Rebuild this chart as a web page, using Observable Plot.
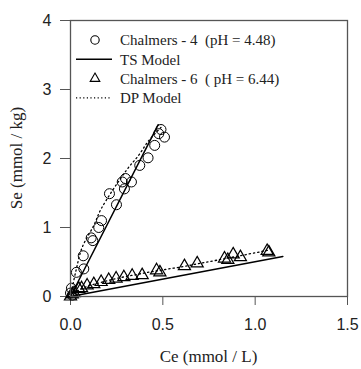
<!DOCTYPE html>
<html>
<head>
<meta charset="utf-8">
<script src="https://cdn.jsdelivr.net/npm/d3@7"></script>
<script src="https://cdn.jsdelivr.net/npm/@observablehq/plot@0.6"></script>
<style>
  html, body { margin: 0; padding: 0; background: #fff; }
</style>
</head>
<body>
<div id="chart"></div>
<script>
// Chalmers - 4 (pH = 4.48) observed points
const c4x = [0.0, 0.005, 0.01, 0.032, 0.072, 0.069, 0.112, 0.121, 0.153, 0.168, 0.211, 0.249, 0.280, 0.292, 0.298, 0.330, 0.375, 0.420, 0.456, 0.478, 0.509, 0.490];
const c4y = [0.05, 0.12, 0.02, 0.35, 0.40, 0.59, 0.85, 0.81, 1.00, 1.10, 1.49, 1.33, 1.66, 1.56, 1.71, 1.66, 1.90, 2.01, 2.19, 2.36, 2.31, 2.42];
// Chalmers - 6 (pH = 6.44) observed points
const c6x = [0.0, 0.01, 0.02, 0.045, 0.06, 0.09, 0.126, 0.166, 0.207, 0.247, 0.289, 0.334, 0.388, 0.466, 0.484, 0.617, 0.686, 0.834, 0.852, 0.881, 0.920, 1.065, 1.074];
const c6y = [0.0, 0.03, 0.05, 0.11, 0.12, 0.16, 0.18, 0.21, 0.24, 0.26, 0.28, 0.30, 0.31, 0.38, 0.35, 0.44, 0.48, 0.55, 0.53, 0.61, 0.57, 0.66, 0.64];
// TS Model lines
const ts4x = [0.0, 0.475];
const ts4y = [0.0, 2.49];
const ts6x = [0.0, 1.15];
const ts6y = [0.0, 0.58];
// DP Model curves
const dp4x = [0.0, 0.03, 0.063, 0.126, 0.166, 0.303, 0.37, 0.424, 0.49];
const dp4y = [0.0, 0.38, 0.71, 1.03, 1.27, 1.83, 2.05, 2.26, 2.45];
const dp6x = [0.0, 0.05, 0.2, 0.4, 0.6, 0.8, 1.07];
const dp6y = [0.0, 0.10, 0.23, 0.34, 0.43, 0.53, 0.67];
// Axis ticks
const xTicks = [0, 0.5, 1.0, 1.5];
const yTicks = [0, 1, 2, 3, 4];
const xTitle = "Ce (mmol / L)";
const yTitle = "Se (mmol / kg)";
const legendItems = [
  {kind: "circle", label: "Chalmers - 4  (pH = 4.48)"},
  {kind: "solid", label: "TS Model"},
  {kind: "triangle", label: "Chalmers - 6  ( pH = 6.44)"},
  {kind: "dotted", label: "DP Model"}
];

const pts = (xs, ys) => xs.map((x, i) => ({x, y: ys[i]}));

const W = 361, H = 369;
const mL = 70, mR = 14, mT = 20, mB = 73;

const plot = Plot.plot({
  width: W,
  height: H,
  marginLeft: mL,
  marginRight: mR,
  marginTop: mT,
  marginBottom: mB,
  style: {fontFamily: "'Liberation Sans', Arial, sans-serif", fontSize: "16px", background: "#fff", overflow: "visible"},
  x: {domain: [0, 1.5], label: null},
  y: {domain: [0, 4], label: null},
  marks: [
    Plot.axisX({ticks: xTicks, tickFormat: d3.format(".1f"), tickSize: 9, tickPadding: 13, stroke: "#555", fill: "#222", fontSize: 16, label: null}),
    Plot.axisY({ticks: yTicks, tickFormat: d3.format("d"), tickSize: 10, tickPadding: 9, stroke: "#555", fill: "#222", fontSize: 16, label: null}),
    Plot.line(pts(ts4x, ts4y), {x: "x", y: "y", stroke: "#000", strokeWidth: 1.5}),
    Plot.line(pts(ts6x, ts6y), {x: "x", y: "y", stroke: "#000", strokeWidth: 1.5}),
    Plot.line(pts(dp4x, dp4y), {x: "x", y: "y", stroke: "#000", strokeWidth: 1.3, strokeDasharray: "1.3,3", curve: "catmull-rom"}),
    Plot.line(pts(dp6x, dp6y), {x: "x", y: "y", stroke: "#000", strokeWidth: 1.3, strokeDasharray: "1.3,3", curve: "catmull-rom"}),
    Plot.dot(pts(c4x, c4y), {x: "x", y: "y", r: 5, stroke: "#000", strokeWidth: 1, fill: "none"}),
    Plot.dot(pts(c6x, c6y), {x: "x", y: "y", r: 4.5, symbol: "triangle", stroke: "#000", strokeWidth: 1.2, fill: "none"}),
    Plot.frame({stroke: "#555", strokeWidth: 1.3})
  ]
});

document.getElementById("chart").appendChild(plot);

// Titles and legend (layout only)
const svg = d3.select(plot);
const serif = "'Liberation Serif', 'Times New Roman', serif";
const cx = mL + (W - mL - mR) / 2;
svg.append("text")
  .attr("x", cx).attr("y", H - 7)
  .attr("text-anchor", "middle")
  .attr("font-family", serif).attr("font-size", 17).attr("fill", "#222")
  .text(xTitle);
svg.append("text")
  .attr("transform", `translate(22,${mT + (H - mT - mB) / 2}) rotate(-90)`)
  .attr("text-anchor", "middle")
  .attr("font-family", serif).attr("font-size", 17).attr("fill", "#222")
  .text(yTitle);

const lg = svg.append("g");
legendItems.forEach((it, i) => {
  const y = 40 + i * 19.3;
  if (it.kind === "circle") {
    lg.append("circle").attr("cx", 95).attr("cy", y).attr("r", 4.2).attr("fill", "none").attr("stroke", "#000").attr("stroke-width", 1.1);
  } else if (it.kind === "triangle") {
    lg.append("path").attr("d", d3.symbol(d3.symbolTriangle, 40)()).attr("transform", `translate(95,${y})`).attr("fill", "none").attr("stroke", "#000").attr("stroke-width", 1.1);
  } else if (it.kind === "solid") {
    lg.append("line").attr("x1", 76).attr("x2", 112).attr("y1", y).attr("y2", y).attr("stroke", "#000").attr("stroke-width", 1.5);
  } else {
    lg.append("line").attr("x1", 76).attr("x2", 112).attr("y1", y).attr("y2", y).attr("stroke", "#000").attr("stroke-width", 1.2).attr("stroke-dasharray", "1.2,2.4");
  }
  lg.append("text")
    .attr("x", 120).attr("y", y).attr("dy", "0.35em")
    .attr("text-anchor", "start")
    .attr("font-family", serif).attr("font-size", 15).attr("fill", "#222")
    .attr("xml:space", "preserve").style("white-space", "pre")
    .text(it.label);
});
</script>
</body>
</html>
